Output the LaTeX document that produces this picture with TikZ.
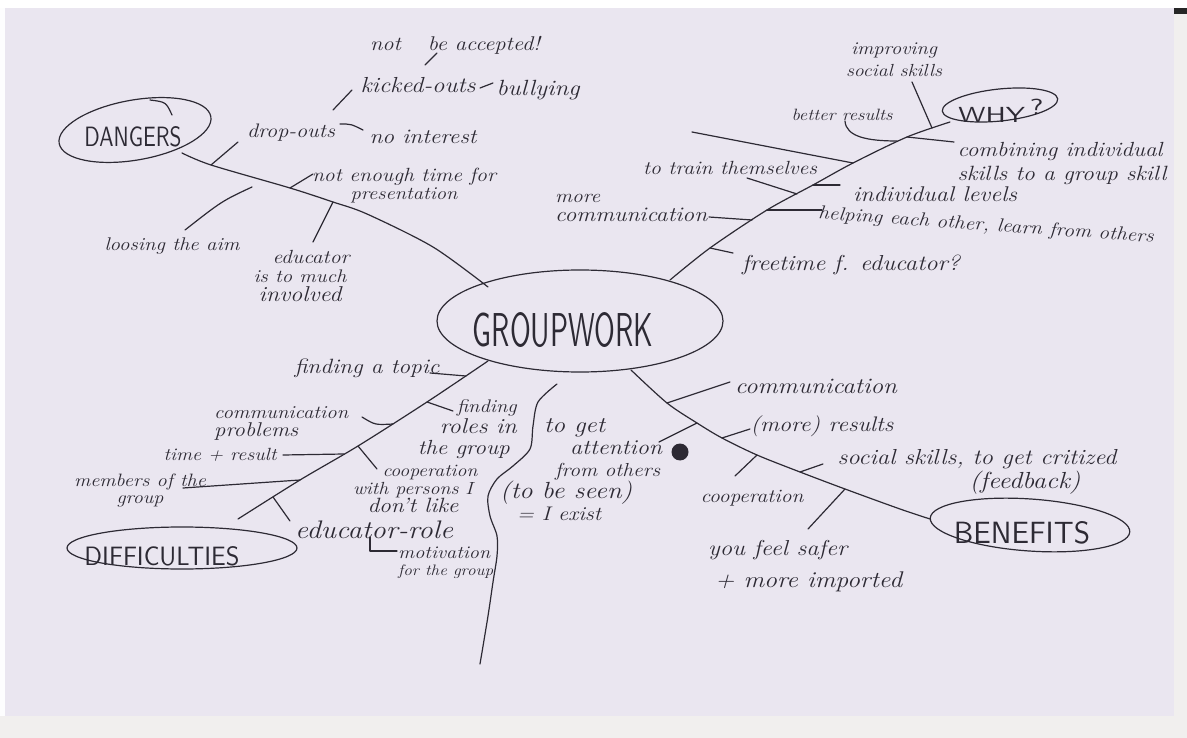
\documentclass[tikz,border=0pt]{standalone}
\usepackage{fontspec}
\usepackage{graphicx}
\usetikzlibrary{shapes.geometric}
\definecolor{paper}{RGB}{234,230,240}
\definecolor{ink}{RGB}{45,42,52}
\definecolor{strip}{RGB}{241,239,238}
\lineskiplimit=-100pt
\newlength\fwlen
\newcommand\fw[2]{\settowidth\fwlen{#2}\scalebox{\fpeval{#1/\fwlen}}[\fpeval{0.88*#1/\fwlen}]{#2}}
\newcommand\caps[3]{\resizebox{#1pt}{#2pt}{#3}}
\begin{document}
\begin{tikzpicture}[x=1pt,y=-1pt,
  pen/.style={draw=ink, line width=1.2pt, line cap=round, line join=round},
  txt/.style={inner sep=0pt, text=ink, align=center, font=\fontsize{14}{#1}\selectfont\itshape},
  txt/.default=18,
  title/.style={inner sep=0pt, text=ink, font=\sffamily},
  oval/.style={ellipse, draw=ink, line width=1.2pt, inner sep=0pt}
]
\useasboundingbox (0,0) rectangle (1187,738);
% paper
\fill[paper] (0,0) rectangle (1187,738);
\fill[white] (0,0) rectangle (1187,8);
\fill[white!92!paper] (0,8) rectangle (5,716);
\fill[strip] (0,716) rectangle (1187,738);
\fill[strip] (1174,8) rectangle (1187,738);
\fill[black!85] (1174,8) rectangle (1187,14);

% ---------- centre ----------
\node[oval, minimum width=286pt, minimum height=102pt] (gwE) at (580,321) {};
\node[title] (gw) at (563,330) {\caps{180}{34}{GROUPWORK}};

% ---------- DANGERS ----------
\node[oval, minimum width=154pt, minimum height=60pt, rotate=10] (dangE) at (135,130) {};
\node[title] (dang) at (133,137) {\caps{97}{20}{DANGERS}};
\coordinate (dl1) at (150,100); \coordinate (dl2) at (172,115);
\draw[pen] (dl1) .. controls (166,102) .. (dl2);

\coordinate (d0) at (182,153);
\coordinate (d1) at (211,165);
\coordinate (d2) at (290,188);
\coordinate (d3) at (333,202);
\coordinate (d4) at (367,214);
\coordinate (d5) at (433,247);
\coordinate (d6) at (488,287);
\draw[pen] plot[smooth, tension=0.5] coordinates {(d0) (d1) (d2) (d3) (d4) (d5) (d6)};

\node[txt] (notacc) at (455,45) {\fw{170}{not\hspace{1.2em}be accepted!}};
\node[txt] (kicked) at (418,85) {\fw{115}{kicked-outs}};
\node[txt] (bully) at (538,90) {\fw{83}{bullying}};
\node[txt] (drop) at (291,133) {\fw{88}{drop-outs}};
\node[txt] (nointer) at (423,137) {\fw{107}{no interest}};
\node[txt=18] (notime) at (404,186) {\fw{184}{not enough time for}\\\fw{107}{presentation}};
\node[txt] (loos) at (172,246) {\fw{135}{loosing the aim}};
\node[txt=19] (educ) at (300,276) {\hspace*{22pt}\fw{77}{educator}\\\fw{93}{is to much}\hspace*{26pt}\\\fw{83}{involved}};

\coordinate (dropT) at (238,142);
\draw[pen] (d1) -- (dropT);
\coordinate (loosA) at (252,187); \coordinate (loosB) at (185,230);
\draw[pen] (loosA) .. controls (222,201) .. (loosB);
\coordinate (notimeT) at (313,174);
\draw[pen] (d2) -- (notimeT);
\coordinate (educT) at (313,242);
\draw[pen] (d3) -- (educT);
\coordinate (dk1) at (333,110); \coordinate (dk2) at (352,90);
\draw[pen] (dk1) -- (dk2);
\coordinate (ka1) at (425,65); \coordinate (ka2) at (437,53);
\draw[pen] (ka1) -- (ka2);
\coordinate (kb1) at (480,88); \coordinate (kb2) at (493,83);
\draw[pen] (kb1) -- (kb2);
\coordinate (dn1) at (340,124); \coordinate (dn2) at (363,130);
\draw[pen] (dn1) .. controls (351,124) .. (dn2);

% ---------- WHY ----------
\node[oval, minimum width=116pt, minimum height=32pt, rotate=6] (whyE) at (1000,105) {};
\node[title] (why) at (1001,111) {\caps{85}{23}{WHY\,\raisebox{0.35em}{?}}};

\coordinate (w0) at (670,280);
\coordinate (w1) at (710,248);
\coordinate (w2) at (752,220);
\coordinate (w3) at (767,210);
\coordinate (w4) at (797,194);
\coordinate (w5) at (813,185);
\coordinate (w6) at (853,163);
\coordinate (w7) at (897,141);
\coordinate (w8) at (907,137);
\coordinate (w9) at (932,128);
\coordinate (w10) at (950,122);
\draw[pen] plot[smooth, tension=0.5] coordinates {(w0) (w1) (w3) (w5) (w6) (w8) (w10)};

\node[txt=22] (impr) at (894,60) {\fw{86}{improving}\\\fw{96}{social skills}};
\node[txt] (better) at (842,115) {\fw{101}{better results}};
\node[txt=24, align=left] (comb) at (1062,164) {\fw{205}{combining individual}\\\fw{209}{skills to a group skill}};
\node[txt] (train) at (730,168) {\fw{174}{to train themselves}};
\node[txt] (indiv) at (935,194) {\fw{164}{individual levels}};
\node[txt=19, align=left, anchor=west] (morecomm) at (555,208) {\fw{45}{more}\\\fw{152}{communication}};
\node[txt, rotate=-4] (help) at (986,226) {\fw{336}{helping each other, learn from others}};
\node[txt] (free) at (851,265) {\fw{218}{freetime f. educator?}};

\coordinate (freeT) at (733,253); \draw[pen] (w1) -- (freeT);
\coordinate (mcT) at (709,217); \draw[pen] (mcT) -- (w2);
\coordinate (helpT) at (822,210); \draw[pen] (w3) -- (helpT);
\coordinate (trainT) at (747,178); \draw[pen] (trainT) -- (w4);
\coordinate (indivT) at (840,185); \draw[pen] (w5) -- (indivT);
\coordinate (longT) at (692,132); \draw[pen] (longT) -- (w6);
\coordinate (betterT) at (845,121);
\draw[pen] (betterT) .. controls (846,137) and (868,141) .. (w7);
\coordinate (combT) at (954,142); \draw[pen] (w8) -- (combT);
\coordinate (imprT) at (912,82); \draw[pen] (imprT) -- (w9);

% ---------- DIFFICULTIES ----------
\node[oval, minimum width=230pt, minimum height=42pt] (diffE) at (182,548) {};
\node[title] (diff) at (162,556) {\caps{155}{19}{DIFFICULTIES}};

\coordinate (f0) at (488,361);
\coordinate (f1) at (466,376);
\coordinate (f2) at (427,402);
\coordinate (f3) at (393,424);
\coordinate (f4) at (358,446);
\coordinate (f5) at (344,454);
\coordinate (f6) at (300,480);
\coordinate (f7) at (273,497);
\coordinate (f8) at (238,519);
\draw[pen] plot[smooth, tension=0.5] coordinates {(f0) (f2) (f4) (f6) (f8)};

\node[txt] (topic) at (367,368) {\fw{145}{finding a topic}};
\node[txt=18, align=left, anchor=west] (commprob) at (214,423) {\fw{134}{communication}\\\fw{84}{problems}};
\node[txt=21, align=right, anchor=east] (roles) at (517,429) {\fw{60}{finding}\\\fw{77}{roles in}\hspace*{12pt}\\\fw{92}{the group}\hspace*{7pt}};
\node[txt] (time) at (220,455) {\fw{113}{time + result}};
\node[txt=18] (coop) at (413,489) {\hspace*{34pt}\fw{95}{cooperation}\\\fw{120}{with persons I}\\\fw{91}{don't like}};
\node[txt=17] (members) at (140,491) {\fw{132}{members of the}\\\fw{47}{group}};
\node[txt] (edrole) at (374,530) {\fw{158}{educator-role}};
\node[txt=17, align=left, anchor=west] (motiv) at (398,563) {\fw{92}{motivation}\\\fw{95}{for the group}};

\coordinate (topicT) at (430,373); \draw[pen] (topicT) -- (f1);
\coordinate (cpT) at (362,417); \draw[pen] (cpT) .. controls (375,425) .. (f3);
\coordinate (rolesT) at (453,411); \draw[pen] (f2) -- (rolesT);
\coordinate (timeT) at (283,455); \draw[pen] (timeT) -- (f5);
\coordinate (coopT) at (377,469); \draw[pen] (f4) -- (coopT);
\coordinate (memT) at (183,488); \draw[pen] (memT) -- (f6);
\coordinate (edT) at (290,521); \draw[pen] (f7) -- (edT);
\coordinate (mo1) at (370,537); \coordinate (mo2) at (397,551);
\draw[pen] (mo1) |- (mo2);

% ---------- attention ----------
\node[txt=22, align=left, anchor=west] (attn) at (500,470) {\hspace*{44pt}\fw{61}{to get}\\\hspace*{70pt}\fw{92}{attention}\\\hspace*{55pt}\fw{105}{from others}\\\fw{132}{(to be seen)}\\\hspace*{17pt}\fw{84}{= I exist}};
\node[circle, fill=ink, minimum size=17pt, inner sep=0pt] (blob) at (680,452) {};
\coordinate (s0) at (557,384); \coordinate (s1) at (480,664);
\draw[pen] plot[smooth, tension=0.5] coordinates {(s0) (538,402) (533,426) (530,449) (513,466) (497,479) (488,496) (490,516) (497,536) (497,556) (493,582) (488,616) (s1)};

% ---------- BENEFITS ----------
\node[oval, minimum width=200pt, minimum height=52pt, rotate=-4] (benE) at (1030,525) {};
\node[title] (ben) at (1022,533) {\caps{136}{22}{BENEFITS}};

\coordinate (b0) at (631,370);
\coordinate (b1) at (667,403);
\coordinate (b2) at (697,423);
\coordinate (b3) at (722,438);
\coordinate (b4) at (757,455);
\coordinate (b5) at (800,472);
\coordinate (b6) at (845,489);
\coordinate (b7) at (900,509);
\coordinate (b8) at (930,519);
\draw[pen] plot[smooth, tension=0.5] coordinates {(b0) (b1) (b2) (b3) (b4) (b5) (b6) (b7) (b8)};

\node[txt] (bcomm) at (816,386) {\fw{162}{communication}};
\node[txt] (bres) at (822,426) {\fw{143}{(more) results}};
\node[txt] (bcoop) at (752,498) {\fw{103}{cooperation}};
\node[txt=24] (social) at (977,472) {\fw{279}{social skills, to get critized}\\\hspace*{96pt}\fw{111}{(feedback)}};
\node[txt=32, align=left, anchor=west] (safer) at (708,566) {\fw{139}{you feel safer}\\\hspace*{7pt}\fw{187}{+ more imported}};

\coordinate (bcT) at (730,382); \draw[pen] (b1) -- (bcT);
\coordinate (brT) at (750,429); \draw[pen] (b3) -- (brT);
\coordinate (atT) at (659,442); \draw[pen] (b2) -- (atT);
\coordinate (bcoT) at (735,476); \draw[pen] (b4) -- (bcoT);
\coordinate (soT) at (823,464); \draw[pen] (b5) -- (soT);
\coordinate (saT) at (808,529); \draw[pen] (b6) -- (saT);
\end{tikzpicture}
\end{document}
